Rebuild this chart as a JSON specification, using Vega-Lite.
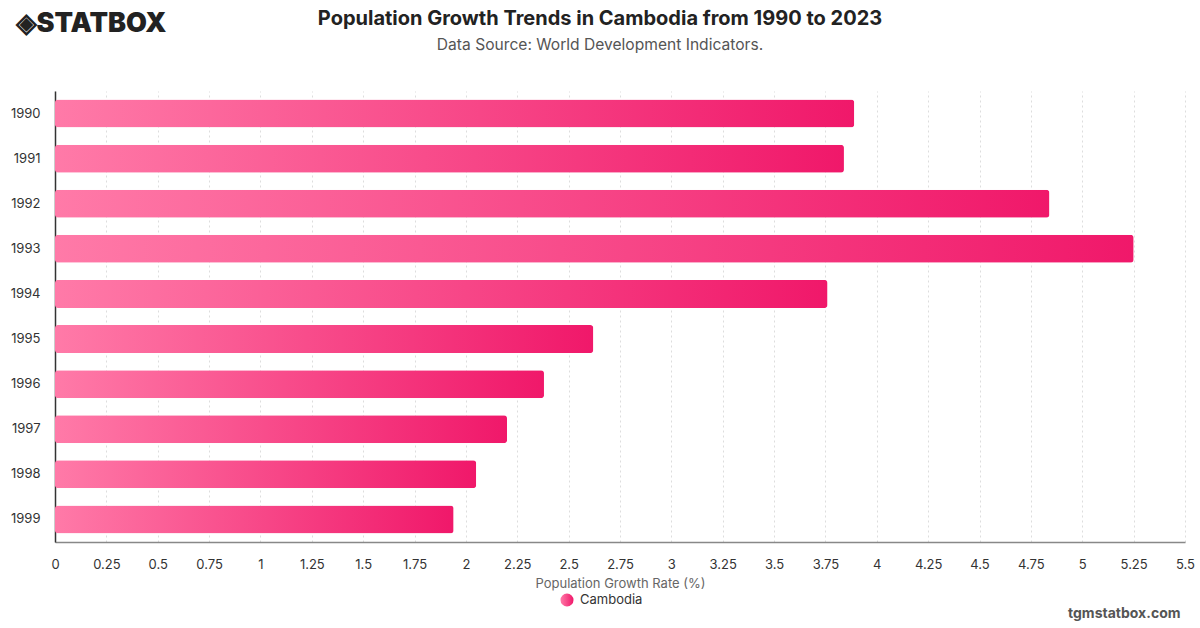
{
  "$schema": "https://vega.github.io/schema/vega-lite/v6.json",
  "width": 1130,
  "height": 451,
  "autosize": {"type": "none"},
  "padding": {"left": 55, "top": 91, "right": 15, "bottom": 86},
  "background": "white",
  "config": {
    "font": "Inter",
    "view": {"stroke": null},
    "axis": {"labelFont": "Inter", "titleFont": "Inter"}
  },
  "title": {
    "text": "Population Growth Trends in Cambodia from 1990 to 2023",
    "subtitle": "Data Source: World Development Indicators.",
    "anchor": "middle",
    "dx": -20,
    "offset": -45,
    "font": "Inter",
    "fontSize": 20,
    "fontWeight": "bold",
    "color": "#222222",
    "subtitleFont": "Inter",
    "subtitleFontSize": 15.6,
    "subtitleColor": "#555555",
    "subtitlePadding": 9
  },
  "data": {
    "values": [
      {"year": "1990", "value": 3.89, "country": "Cambodia"},
      {"year": "1991", "value": 3.84, "country": "Cambodia"},
      {"year": "1992", "value": 4.84, "country": "Cambodia"},
      {"year": "1993", "value": 5.25, "country": "Cambodia"},
      {"year": "1994", "value": 3.76, "country": "Cambodia"},
      {"year": "1995", "value": 2.62, "country": "Cambodia"},
      {"year": "1996", "value": 2.38, "country": "Cambodia"},
      {"year": "1997", "value": 2.20, "country": "Cambodia"},
      {"year": "1998", "value": 2.05, "country": "Cambodia"},
      {"year": "1999", "value": 1.94, "country": "Cambodia"}
    ]
  },
  "encoding": {
    "x": {
      "field": "value",
      "type": "quantitative",
      "scale": {"domain": [0, 5.5], "nice": false, "zero": true},
      "axis": {
        "values": [0, 0.25, 0.5, 0.75, 1, 1.25, 1.5, 1.75, 2, 2.25, 2.5, 2.75, 3, 3.25, 3.5, 3.75, 4, 4.25, 4.5, 4.75, 5, 5.25, 5.5],
        "format": ".3~g",
        "labelFlush": false,
        "title": "Population Growth Rate (%)",
        "titleFontSize": 13,
        "titleFontWeight": "normal",
        "titleColor": "#666666",
        "titlePadding": 6,
        "labelFontSize": 13,
        "labelColor": "#333333",
        "labelPadding": 16,
        "ticks": false,
        "domainColor": "#888888",
        "domainWidth": 1.5,
        "grid": true,
        "gridColor": "#dddddd",
        "gridDash": [2, 3],
        "gridWidth": 1
      }
    }
  },
  "layer": [
    {
      "mark": {
        "type": "bar",
        "cornerRadius": 3,
        "color": {
          "gradient": "linear",
          "x1": 0, "y1": 0, "x2": 1, "y2": 0,
          "stops": [
            {"offset": 0, "color": "#ff7aa8"},
            {"offset": 1, "color": "#f0186a"}
          ]
        }
      },
      "encoding": {
        "y": {
          "field": "year",
          "type": "nominal",
          "sort": null,
          "scale": {"paddingInner": 0.38, "paddingOuter": 0.19},
          "axis": {
            "orient": "left",
            "labelFontSize": 13,
            "labelColor": "#333333",
            "labelPadding": 15,
            "ticks": false,
            "domainColor": "#333333",
            "domainWidth": 1.5,
            "grid": false,
            "title": "◈STATBOX",
            "titleAngle": 0,
            "titleAlign": "left",
            "titleBaseline": "middle",
            "titleX": -40,
            "titleY": -68,
            "titleFontSize": 27,
            "titleFontWeight": 900,
            "titleColor": "#222222"
          }
        },
        "opacity": {
          "field": "country",
          "type": "nominal",
          "scale": {"domain": ["Cambodia"], "range": [1]},
          "legend": {
            "orient": "none",
            "legendX": 505,
            "legendY": 502,
            "title": null,
            "symbolType": "circle",
            "symbolSize": 170,
            "symbolStrokeWidth": 0,
            "symbolFillColor": "#f5307a",
            "labelFontSize": 13,
            "labelColor": "#333333",
            "labelOffset": 6,
            "encode": {
              "symbols": {
                "update": {
                  "fill": {"value": "#f5307a"},
                  "opacity": {"value": 1}
                }
              }
            }
          }
        }
      }
    },
    {
      "mark": {"type": "bar", "opacity": 0},
      "encoding": {
        "y": {
          "field": "year",
          "type": "nominal",
          "sort": null,
          "axis": {
            "orient": "right",
            "labels": false,
            "ticks": false,
            "domain": false,
            "grid": false,
            "title": "tgmstatbox.com",
            "titleAngle": 0,
            "titleAlign": "right",
            "titleBaseline": "middle",
            "titleX": -5,
            "titleY": 522,
            "titleFontSize": 14,
            "titleFontWeight": "bold",
            "titleColor": "#555555"
          }
        }
      }
    }
  ],
  "resolve": {"axis": {"y": "independent"}}
}
